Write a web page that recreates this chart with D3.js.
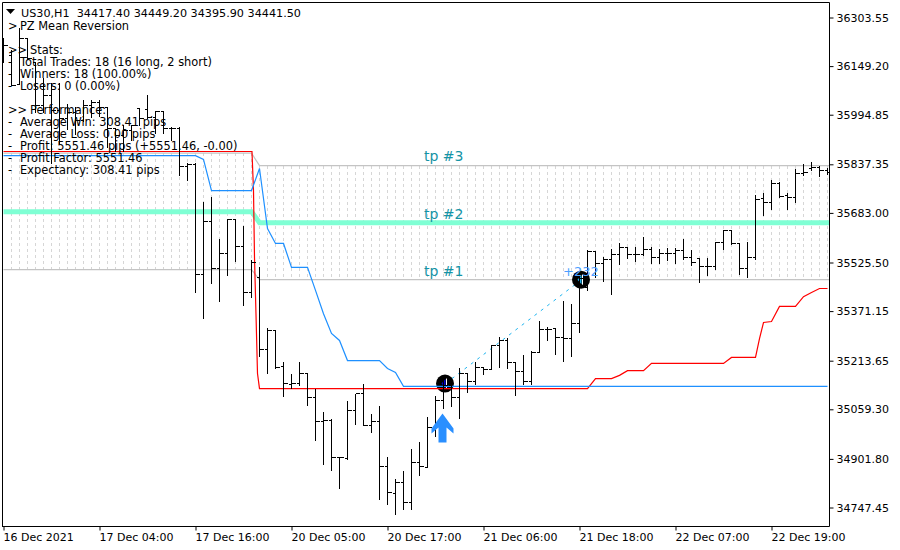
<!DOCTYPE html>
<html><head><meta charset="utf-8">
<script src="https://cdn.jsdelivr.net/npm/d3@7/dist/d3.min.js"></script>
<style>html,body{margin:0;padding:0;background:#fff}svg{display:block}text{font-family:"DejaVu Sans",Verdana,sans-serif}</style>
</head><body><svg id="c" width="900" height="550"></svg>
<script>
const opens=[36199,36183,36091,36237,36161,36024,36056,36008,35983,36002,35976,36024,36034,36018,35951,35929,35945,36015,36011,35986,36005,35951,35951,35830,35837,35487,35656,35506,35554,35662,35576,35430,35478,35249,35310,35195,35138,35141,35173,35097,35020,35024,34906,34903,35055,35109,35008,35020,34878,34792,34827,34763,34890,34875,35002,35087,35135,35097,35173,35147,35192,35186,35262,35278,35208,35179,35147,35240,35313,35316,35287,35284,35332,35446,35560,35522,35535,35551,35573,35551,35551,35567,35541,35554,35554,35564,35541,35538,35513,35513,35589,35627,35586,35506,35541,35729,35716,35776,35738,35732,35808,35824,35827,35818];
const highs=[36240,36199,36269,36237,36161,36110,36094,36097,36030,36018,36040,36043,36043,36018,35954,35961,35961,36015,36059,36008,36005,35957,35957,35843,35840,35719,35735,35599,35665,35665,35640,35532,35510,35319,35310,35211,35170,35211,35176,35125,35052,35027,34906,35087,35109,35141,35043,35071,34909,34839,34862,34932,34954,35036,35103,35151,35151,35189,35176,35208,35192,35265,35290,35287,35208,35233,35246,35341,35322,35316,35402,35395,35494,35564,35560,35544,35567,35589,35576,35576,35608,35576,35567,35570,35570,35599,35564,35541,35541,35592,35630,35630,35589,35592,35741,35745,35789,35780,35745,35824,35837,35846,35833,35827];
const lows=[36161,36088,36094,36173,36002,36002,35840,35903,35948,35935,35976,35986,35992,35891,35881,35881,35913,35961,35983,35938,35938,35913,35802,35786,35433,35348,35459,35402,35487,35529,35392,35417,35230,35176,35192,35100,35128,35135,35074,34963,34887,34868,34808,34903,35014,35008,34986,34776,34760,34728,34744,34744,34852,34875,34973,35062,35071,35033,35113,35141,35170,35186,35195,35192,35106,35141,35141,35240,35278,35236,35214,35227,35306,35437,35478,35468,35427,35522,35541,35529,35548,35525,35525,35535,35525,35538,35519,35462,35487,35506,35567,35583,35490,35481,35538,35675,35694,35732,35694,35719,35802,35818,35799,35805];
const closes=[36215,36088,36237,36173,36024,36056,36008,35983,36002,35976,36024,36034,36018,35951,35929,35945,35961,35983,35986,36005,35951,35951,35830,35837,35487,35656,35506,35554,35662,35576,35430,35525,35249,35310,35192,35141,35141,35173,35097,35020,35024,34906,34906,35055,35109,35008,35020,34878,34795,34827,34763,34890,34878,35002,35087,35135,35097,35173,35147,35192,35186,35262,35278,35208,35179,35147,35240,35313,35313,35287,35284,35332,35475,35560,35522,35535,35551,35573,35551,35551,35567,35541,35554,35554,35564,35541,35525,35513,35513,35589,35627,35586,35506,35541,35725,35716,35776,35735,35732,35808,35811,35827,35818,35811];

const lineIdx=[0,31.06,31.25,31.375,31.56,31.75,32,73,74,76,77,78,80,81,90,91,94,94.5,95,96,97,99,100,101,102,103];
const redValues=[35878,35878,35754,35541,35363,35173,35125,35125,35157,35157,35167,35182,35182,35205,35205,35224,35224,35284,35335,35338,35386,35386,35417,35430,35443,35443];
const blueIdx=[0,24,25,26,31,32,33,34,35,36,38,39,40,41,42,43,47,48,49,50,103];
const blueValues=[35865,35865,35853,35754,35754,35824,35633,35586,35586,35510,35510,35437,35363,35300,35278,35214,35214,35189,35176,35132,35132];
const bandIdx=[0,31,32,103.25];
const tp1Values=[35503,35503,35471,35471];
const tp2Values=[35687,35687,35652,35652];
const tp3Values=[35873,35873,35833,35833];

const priceTicks=[36303.55,36149.20,35994.85,35837.35,35683.00,35525.50,35371.15,35213.65,35059.30,34901.80,34747.45];
const timeTickIdx=[0,12,24,36,48,60,72,84,96];
const timeTickLabels=["16 Dec 2021","17 Dec 04:00","17 Dec 16:00","20 Dec 05:00","20 Dec 17:00","21 Dec 06:00","21 Dec 18:00","22 Dec 07:00","22 Dec 19:00"];
const tradeIdx=[55.25,72.25];
const tradeValues=[35141,35471];
const tpLabels=["tp #1","tp #2","tp #3"];
const tpLabelValues=[35484,35665,35849];
const headerText="US30,H1  34417.40 34449.20 34395.90 34441.50";
const panelPrefix=[">","",">>","-","-","-","",">>","-","-","-","-","-"];
const panelLines=["PZ Mean Reversion","","Stats:","Total Trades: 18 (16 long, 2 short)","Winners: 18 (100.00%)","Losers: 0 (0.00%)","","Performance:","Average Win: 308.41 pips","Average Loss: 0.00 pips","Profit: 5551.46 pips (+5551.46, -0.00)","Profit Factor: 5551.46","Expectancy: 308.41 pips"];

const svg=d3.select("#c");
const x=d3.scaleLinear().domain([0,103]).range([3.5,827.5]);
const y=d3.scaleLinear().domain([34747.45,36303.55]).range([507.5,17.5]);
const Lr=829.5,T=2.5,B=526.5;
const line=d3.line();
const path=(xs,vs)=>line(xs.map((d,i)=>[x(d),y(vs[i])]));

svg.append("defs").append("clipPath").attr("id","plot").append("rect").attr("x",2).attr("y",3).attr("width",827).attr("height",523);
const g=svg.append("g").attr("clip-path","url(#plot)");

// dotted band
const gridIdx=d3.range(1,104);
g.append("g").selectAll("line").data(gridIdx).join("line")
 .attr("x1",d=>x(d)).attr("x2",d=>x(d))
 .attr("y1",d=>y(d<=31?tp3Values[0]:tp3Values[2]))
 .attr("y2",d=>y(d<=31?tp1Values[0]:tp1Values[2]))
 .attr("stroke","#d6d6d6").attr("stroke-dasharray","3 3").attr("shape-rendering","crispEdges");
[tp1Values,tp3Values].forEach(v=>g.append("path").attr("d",path(bandIdx,v)).attr("fill","none").attr("stroke","#c4c4c4").attr("stroke-width",1.2));
g.append("path").attr("d",path(bandIdx,tp2Values)).attr("fill","none").attr("stroke","#7fffd4").attr("stroke-width",5);

// trade markers
g.append("path").attr("d",path(tradeIdx,tradeValues)).attr("stroke","#1eb4f0").attr("stroke-width",1).attr("stroke-dasharray","3 5").attr("fill","none");
g.append("g").selectAll("circle").data(tradeIdx).join("circle")
 .attr("cx",d=>x(d)-.5).attr("cy",(d,i)=>y(tradeValues[i])).attr("r",9).attr("fill","#000");
const triColors=["#0000d0","#1eb4f0"];
g.append("g").selectAll("path").data(tradeIdx).join("path")
 .attr("transform",(d,i)=>`translate(${x(d)},${y(tradeValues[i])})`)
 .attr("d","M-4,0L0,-4.5L0,4.5Z").attr("fill",(d,i)=>triColors[i]);
g.append("g").selectAll("line").data(tradeIdx).join("line")
 .attr("x1",d=>x(d)+1).attr("x2",d=>x(d)+1).attr("y1",(d,i)=>y(tradeValues[i])-5).attr("y2",(d,i)=>y(tradeValues[i])+5).attr("stroke","#fff");

// indicator lines
g.append("path").attr("d",path(lineIdx,redValues)).attr("fill","none").attr("stroke","#ff0000").attr("stroke-width",1.2);
g.append("path").attr("d",path(blueIdx,blueValues)).attr("fill","none").attr("stroke","#1e90ff").attr("stroke-width",1.2);

// bars
const bars=g.append("g").attr("stroke","#000").attr("shape-rendering","crispEdges");
const idx=d3.range(opens.length);
bars.selectAll(".hl").data(idx).join("line").attr("x1",d=>x(d)).attr("x2",d=>x(d)).attr("y1",d=>y(highs[d])).attr("y2",d=>y(lows[d])+1);
bars.selectAll(".o").data(idx).join("line").attr("x1",d=>x(d)-3).attr("x2",d=>x(d)).attr("y1",d=>y(opens[d])).attr("y2",d=>y(opens[d]));
bars.selectAll(".c").data(idx).join("line").attr("x1",d=>x(d)).attr("x2",d=>x(d)+4).attr("y1",d=>y(closes[d])).attr("y2",d=>y(closes[d]));

// entry arrow
svg.append("path").attr("transform",`translate(${x(55)-1},${y(35046)})`)
 .attr("d","M0,0L11,15L11,20L4,14L4,29L-4,29L-4,14L-11,20L-11,15Z").attr("fill","#2a8fff");

// labels
svg.append("g").selectAll("text").data(tpLabels).join("text").attr("x",424).attr("y",(d,i)=>y(tpLabelValues[i])).text(d=>d)
 .attr("font-size",14).attr("fill","#1593a5");
svg.append("text").attr("x",563).attr("y",y(35484)).text("+232").attr("font-size",13).attr("fill","#4d9fff");

// panel text
svg.append("path").attr("d","M6,9L15,9L10.5,14Z").attr("fill","#000");
svg.append("text").attr("x",21).attr("y",17).text(headerText).attr("font-size",11.2).attr("fill","#000").style("white-space","pre");
panelLines.forEach((t,i)=>{
  const yy=30+12*i;
  if(panelPrefix[i]) svg.append("text").attr("x",8).attr("y",yy).text(panelPrefix[i]).attr("font-size",11.4).attr("fill","#000");
  if(t) svg.append("text").attr("x",panelPrefix[i]==">>"?30:20).attr("y",yy).text(t).attr("font-size",11.4).attr("fill","#000");
});

// axes
const fmt=d3.format(".2f");
const xAxis=svg.append("g").attr("transform",`translate(0,${B})`).call(d3.axisBottom(x).tickValues(timeTickIdx).tickFormat((d,i)=>timeTickLabels[i]).tickSize(4).tickSizeOuter(0));
xAxis.select(".domain").attr("d",`M2,0H${Lr}`).attr("stroke","#000");
xAxis.selectAll("text").attr("text-anchor","start").attr("x",-0.5).attr("y",5).attr("dy","0.9em").attr("font-size",11).attr("fill","#000");
xAxis.selectAll("line").attr("stroke","#000");
const yAxis=svg.append("g").attr("transform",`translate(${Lr},0)`).call(d3.axisRight(y).tickValues(priceTicks).tickFormat(fmt).tickSize(4).tickSizeOuter(0));
yAxis.select(".domain").attr("d",`M0,${T}V${B}`).attr("stroke","#000");
yAxis.selectAll("text").attr("x",7).attr("font-size",11).attr("fill","#000");
yAxis.selectAll("line").attr("stroke","#000");
xAxis.attr("font-family",null);yAxis.attr("font-family",null);
svg.append("path").attr("d",`M2.5,${B}V${T}H${Lr}`).attr("fill","none").attr("stroke","#000");
</script></body></html>
